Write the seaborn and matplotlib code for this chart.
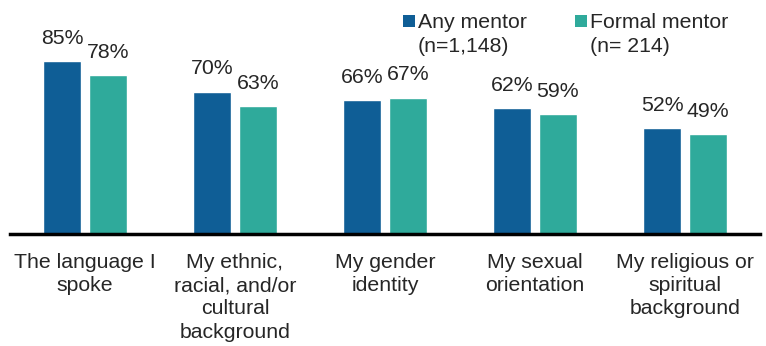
import matplotlib
matplotlib.use("Agg")
import matplotlib.pyplot as plt
import seaborn as sns
import pandas as pd
from matplotlib.patches import Rectangle

categories = [
    "The language I\nspoke",
    "My ethnic,\nracial, and/or\ncultural\nbackground",
    "My gender\nidentity",
    "My sexual\norientation",
    "My religious or\nspiritual\nbackground",
]
any_mentor = [85, 70, 66, 62, 52]
formal_mentor = [78, 63, 67, 59, 49]
series_names = ["Any mentor", "Formal mentor"]
sample_sizes = ["(n=1,148)", "(n= 214)"]
colors = ["#0F5E96", "#2FAA9B"]

df = pd.DataFrame({
    "category": categories * 2,
    "series": [series_names[0]] * len(categories) + [series_names[1]] * len(categories),
    "value": any_mentor + formal_mentor,
})

sns.set_theme(style="white")
plt.rcParams["font.family"] = ["Liberation Sans", "DejaVu Sans"]
text_color = "#262626"
fs = 15.3

W, H = 766, 346
fig = plt.figure(figsize=(W / 100, H / 100), dpi=100)
ax = fig.add_axes([10 / W, 112 / H, 750 / W, 234 / H])

sns.barplot(data=df, x="category", y="value", hue="series", order=categories,
            hue_order=series_names, palette=colors, width=0.61, gap=0.17,
            saturation=1, legend=False, ax=ax)

for container in ax.containers:
    ax.bar_label(container, labels=[f"{v:.0f}%" for v in container.datavalues],
                 padding=9.5, fontsize=fs, color=text_color)

ax.set_xlim(-0.5, len(categories) - 0.5)
ax.set_ylim(0, 115)
ax.set_xlabel("")
ax.set_ylabel("")
ax.set_yticks([])
for side in ["top", "right", "left"]:
    ax.spines[side].set_visible(False)
ax.spines["bottom"].set_color("black")
ax.spines["bottom"].set_linewidth(2.5)
ax.tick_params(axis="x", length=0, pad=13.5, labelsize=fs, labelcolor=text_color)
for lbl in ax.get_xticklabels():
    lbl.set_linespacing(1.29)

# Legend: colour square beside the series name, sample size on the line below
legend_x = [403, 575]
for x0, name, n, c in zip(legend_x, series_names, sample_sizes, colors):
    fig.add_artist(Rectangle((x0 / W, 1 - 27 / H), 12 / W, 12 / H,
                             transform=fig.transFigure, facecolor=c,
                             edgecolor="none"))
    fig.text((x0 + 15) / W, 1 - 28 / H, name, fontsize=fs, color=text_color,
             ha="left", va="baseline")
    fig.text((x0 + 15) / W, 1 - 52 / H, n, fontsize=fs, color=text_color,
             ha="left", va="baseline")

fig.savefig("out.png", dpi=100)
